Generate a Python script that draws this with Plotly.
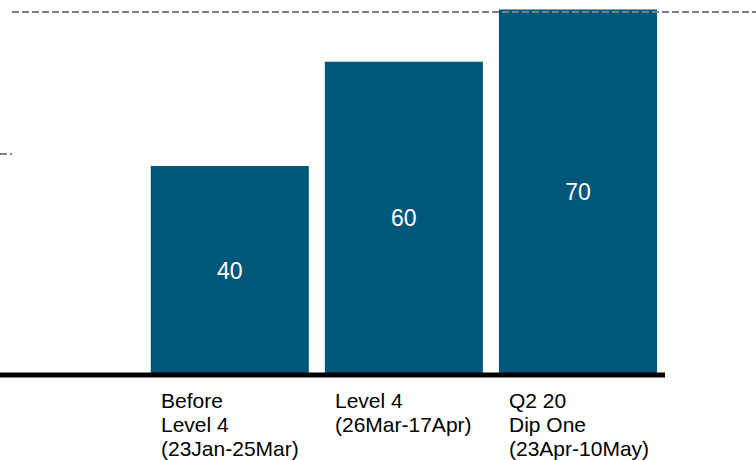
import plotly.graph_objects as go

# Periods and the value shown for each
categories = [
    "Before<br>Level 4<br>(23Jan-25Mar)",
    "Level 4<br>(26Mar-17Apr)",
    "Q2 20<br>Dip One<br>(23Apr-10May)",
]
values = [40, 60, 70]

# Dashed reference levels (value units)
ref_upper = 69.5
ref_lower = 42.3

BAR_COLOR = "#00577A"
FONT = "Liberation Sans, Arial, sans-serif"
Y_MAX = 71.8
BAR_WIDTH = 0.908

x_pos = list(range(len(values)))

fig = go.Figure()
fig.add_trace(go.Bar(
    x=x_pos,
    y=values,
    width=BAR_WIDTH,
    marker=dict(color=BAR_COLOR, line=dict(width=0)),
    text=[str(v) for v in values],
    textposition="inside",
    insidetextanchor="middle",
    textangle=0,
    insidetextfont=dict(color="white", size=23, family=FONT),
    hoverinfo="skip",
))

# Category labels, left-aligned under each bar, one annotation per line
annotations = []
for i, label in enumerate(categories):
    for j, line in enumerate(label.split("<br>")):
        annotations.append(dict(
            x=x_pos[i] - BAR_WIDTH / 2, xref="x",
            y=0, yref="paper",
            xanchor="left", yanchor="middle",
            xshift=8, yshift=-(25 + 24.4 * j),
            text=line, showarrow=False, align="left",
            font=dict(size=21, color="black", family=FONT),
        ))

dash_style = dict(color="#7F7F7F", width=2, dash="7px,3px")
shapes = [
    # heavy baseline under the bars
    dict(type="line", xref="paper", yref="paper",
         x0=0, x1=1, y0=0, y1=0,
         line=dict(color="black", width=5), layer="above"),
    dict(type="line", xref="paper", yref="paper",
         x0=12 / 665, x1=756 / 665, y0=ref_upper / Y_MAX, y1=ref_upper / Y_MAX,
         line=dash_style, layer="above"),
    dict(type="line", xref="paper", yref="paper",
         x0=0, x1=12 / 665, y0=ref_lower / Y_MAX, y1=ref_lower / Y_MAX,
         line=dash_style, layer="above"),
]

fig.update_layout(
    width=756, height=460,
    margin=dict(l=0, r=91, t=0, b=85),
    paper_bgcolor="white", plot_bgcolor="white",
    showlegend=False,
    annotations=annotations,
    shapes=shapes,
    xaxis=dict(range=[-1.32, 2.5], showticklabels=False, ticks="",
               showgrid=False, zeroline=False, showline=False),
    yaxis=dict(range=[0, Y_MAX], visible=False, showgrid=False, zeroline=False),
)

fig.write_html("out.html")
